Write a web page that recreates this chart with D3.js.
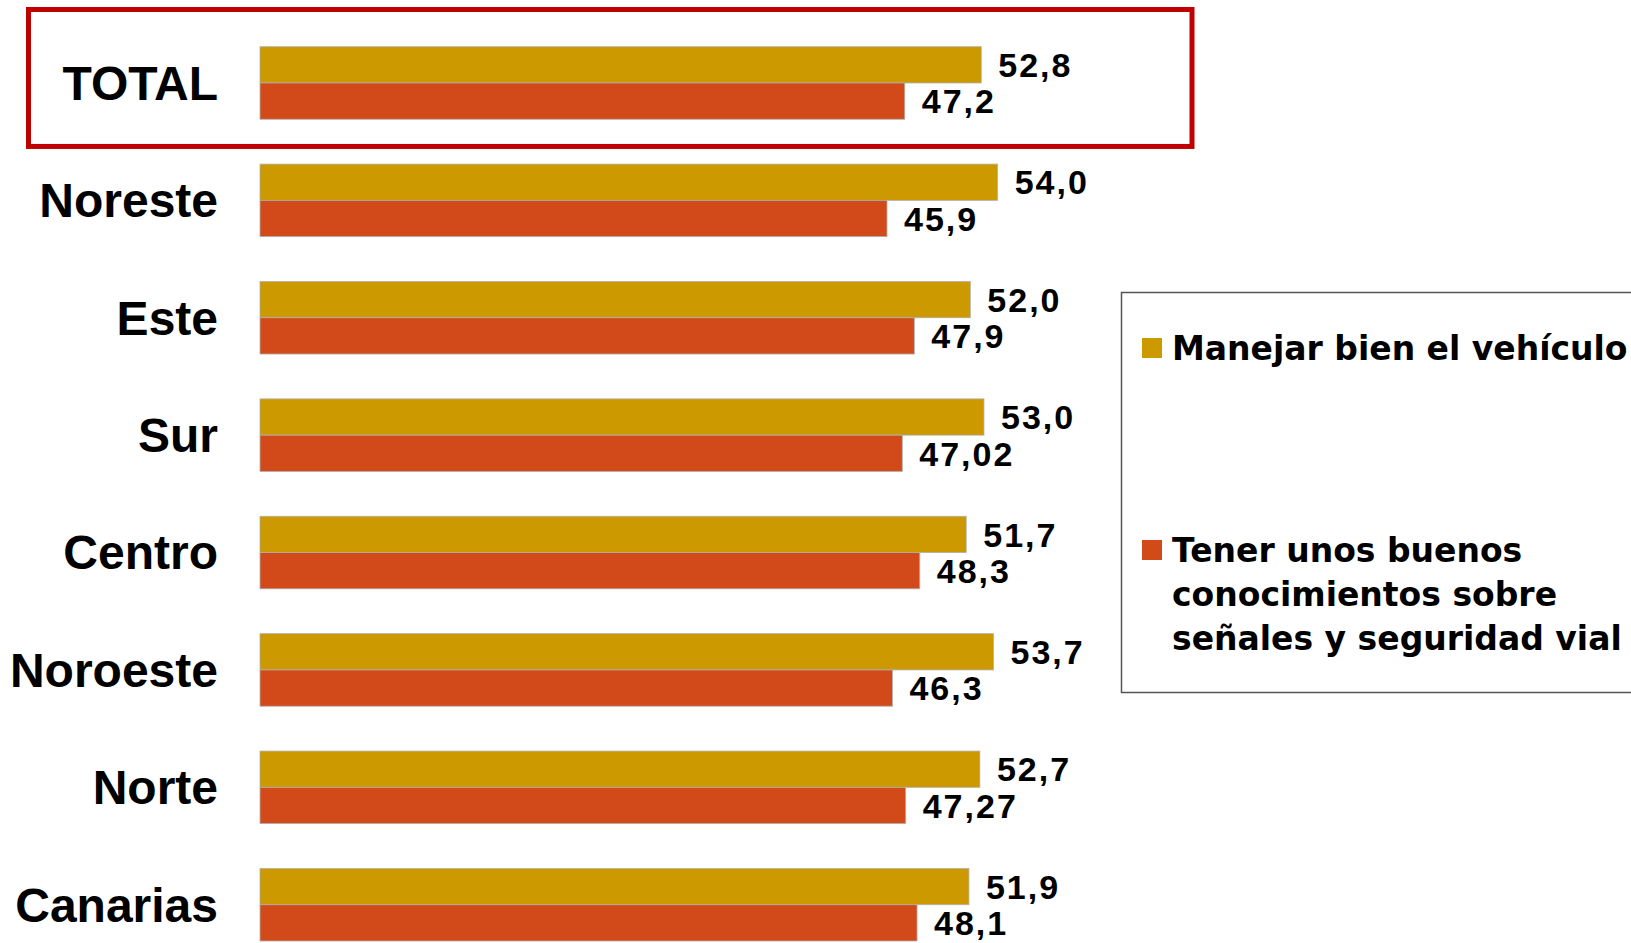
<!DOCTYPE html>
<title>Manejar bien vs conocimientos por zona</title>
<style>
body { margin: 0; background: white; }

.cat {
  font: bold 48px "Liberation Sans", Arial, sans-serif;
  fill: black;
}

.val {
  font: bold 34px "Liberation Sans", Arial, sans-serif;
  letter-spacing: 2px;
  fill: black;
}

.leg {
  font: bold 33px "DejaVu Sans", Tahoma, sans-serif;
  fill: black;
}
</style>
<body>
<svg width="1631" height="943"></svg>
<script src="https://d3js.org/d3.v7.min.js"></script>
<script>

var categories = ["TOTAL", "Noreste", "Este", "Sur", "Centro", "Noroeste", "Norte", "Canarias"];
var manejar = [52.8, 54.0, 52.0, 53.0, 51.7, 53.7, 52.7, 51.9];
var conocimientos = [47.2, 45.9, 47.9, 47.02, 48.3, 46.3, 47.27, 48.1];
var seriesNames = ["Manejar bien el vehículo", "Tener unos buenos conocimientos sobre señales y seguridad vial"];
var colors = ["#CC9900", "#D24A19"];

var svg = d3.select("svg"),
    g = svg.append("g");

var data = categories.map(function(c, i) {
  return {cat: c, vals: [manejar[i], conocimientos[i]]};
});

var y = d3.scaleBand()
    .domain(categories)
    .range([46.7, 46.7 + 894.3])
    .paddingInner(0.382)
    .paddingOuter(0);

var y1 = d3.scaleBand()
    .domain([0, 1])
    .range([0, y.bandwidth()]);

var x = d3.scaleLinear()
    .domain([0, 60])
    .range([260, 260 + 60 * 13.66]);

function fmt(v) {
  var s = Math.abs(v * 10 - Math.round(v * 10)) < 1e-6 ? v.toFixed(1) : v.toFixed(2);
  return s.replace(".", ",");
}

// red frame round TOTAL
g.append("rect")
  .attr("x", 28.5)
  .attr("y", y("TOTAL") - 37.2)
  .attr("width", 1163.5)
  .attr("height", y.bandwidth() + 64.4)
  .attr("fill", "none")
  .attr("stroke", "#C00000")
  .attr("stroke-width", 5);

var grp = g.selectAll(".grp")
  .data(data)
  .enter().append("g")
    .attr("class", "grp")
    .attr("transform", function(d) { return "translate(0," + y(d.cat) + ")"; });

grp.append("text")
  .attr("class", "cat")
  .attr("x", 218)
  .attr("y", y.bandwidth() / 2)
  .attr("dy", "0.35em")
  .attr("text-anchor", "end")
  .text(function(d) { return d.cat; });

grp.selectAll("rect")
  .data(function(d) { return d.vals; })
  .enter().append("rect")
    .attr("x", x(0))
    .attr("y", function(d, i) { return y1(i); })
    .attr("width", function(d) { return x(d) - x(0); })
    .attr("height", y1.bandwidth())
    .attr("fill", function(d, i) { return colors[i]; })
    .attr("stroke", "#b0b0b0")
    .attr("stroke-width", 0.8);

grp.selectAll(".val")
  .data(function(d) { return d.vals; })
  .enter().append("text")
    .attr("class", "val")
    .attr("x", function(d) { return x(d) + 17; })
    .attr("y", function(d, i) { return y1(i) + y1.bandwidth() / 2; })
    .attr("dy", "0.36em")
    .text(function(d) { return fmt(d); });

// legend
var leg = g.append("g");

leg.append("rect")
  .attr("x", 1121.5)
  .attr("y", 292.5)
  .attr("width", 600)
  .attr("height", 400)
  .attr("fill", "white")
  .attr("stroke", "#555")
  .attr("stroke-width", 1.5);

var legLines = [[seriesNames[0]], ["Tener unos buenos", "conocimientos sobre", "señales y seguridad vial"]];
var legTop = [360, 562];

legLines.forEach(function(lines, i) {
  leg.append("rect")
    .attr("x", 1142)
    .attr("y", legTop[i] - 22)
    .attr("width", 20)
    .attr("height", 20)
    .attr("fill", colors[i]);

  leg.append("text")
    .attr("class", "leg")
    .selectAll("tspan")
    .data(lines)
    .enter().append("tspan")
      .attr("x", 1172)
      .attr("y", function(d, j) { return legTop[i] + j * 44; })
      .text(function(d) { return d; });
});

</script>
</body>
